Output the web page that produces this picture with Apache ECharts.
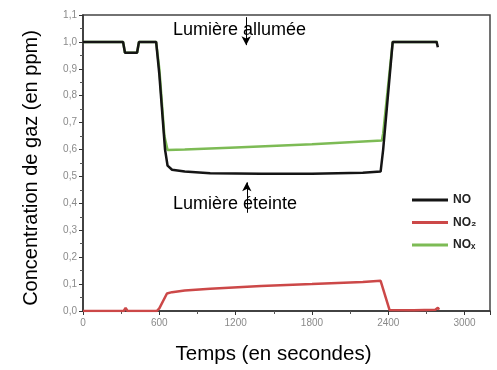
<!DOCTYPE html>
<html>
<head>
<meta charset="utf-8">
<script src="https://cdn.jsdelivr.net/npm/echarts@6/dist/echarts.min.js"></script>
<style>html,body{margin:0;padding:0;background:#fff}#c{width:497px;height:370px}</style>
</head>
<body>
<div id="c"></div>
<script>
// ---- data (time in seconds, concentration in ppm) ----
const noTime  = [0, 315, 330, 425, 440, 575, 600, 645, 665, 700, 800, 1000, 1400, 1800, 2200, 2340, 2360, 2435, 2600, 2780, 2790];
const noVal   = [1.0, 1.0, 0.96, 0.96, 1.0, 1.0, 0.88, 0.60, 0.54, 0.525, 0.518, 0.512, 0.51, 0.51, 0.514, 0.518, 0.60, 1.0, 1.0, 1.0, 0.98];

const no2Time = [0, 320, 335, 350, 580, 600, 660, 700, 800, 1000, 1400, 1800, 2200, 2340, 2410, 2600, 2770, 2790, 2800];
const no2Val  = [0.0, 0.0, 0.012, 0.0, 0.0, 0.01, 0.065, 0.07, 0.076, 0.083, 0.093, 0.1, 0.108, 0.112, 0.004, 0.003, 0.005, 0.012, 0.005];

const noxTime = [0, 315, 330, 425, 440, 575, 600, 640, 665, 800, 1200, 1800, 2350, 2360, 2435, 2600, 2790];
const noxVal  = [1.0, 1.0, 0.96, 0.96, 1.0, 1.0, 0.9, 0.65, 0.598, 0.6, 0.608, 0.62, 0.634, 0.66, 1.0, 1.0, 1.0];

const seriesNames = ['NO', 'NO₂', 'NOₓ'];
const xTicks = [0, 600, 1200, 1800, 2400, 3000];
const annotTexts = ['Lumière allumée', 'Lumière éteinte'];

const pairs = (t, v) => t.map((x, i) => [x, v[i]]);
const F = 'Liberation Sans, Arial, sans-serif';

const chart = echarts.init(document.getElementById('c'), null, {renderer: 'canvas'});
chart.setOption({
  animation: false,
  backgroundColor: '#fff',
  grid: {left: 83, right: 7, top: 15, bottom: 58, show: true, borderColor: '#444', borderWidth: 1.5},
  legend: {
    orient: 'vertical', left: 407, top: 189, itemWidth: 36, itemHeight: 3, itemGap: 10.5,
    icon: 'rect', data: seriesNames,
    textStyle: {fontFamily: F, fontSize: 12, fontWeight: 'bold', color: '#222'}
  },
  xAxis: {
    type: 'value', min: 0, max: 3200, interval: 600,
    name: 'Temps (en secondes)', nameLocation: 'middle', nameGap: 33,
    nameTextStyle: {fontFamily: F, fontSize: 20.5, color: '#000', padding: [0, 26, 0, 0]},
    axisLine: {lineStyle: {color: '#333', width: 1.5}},
    axisTick: {show: true, length: 4, lineStyle: {color: '#333'}},
    minorTick: {show: true, splitNumber: 2, length: 3, lineStyle: {color: '#555'}},
    splitLine: {show: false},
    axisLabel: {fontFamily: F, fontSize: 10, color: '#8a8a8a', margin: 7,
      formatter: v => xTicks.includes(v) ? String(v) : ''}
  },
  yAxis: {
    type: 'value', min: 0, max: 1.1, interval: 0.1,
    name: 'Concentration de gaz (en ppm)', nameLocation: 'middle', nameGap: 42, nameRotate: 90,
    nameTextStyle: {fontFamily: F, fontSize: 20, color: '#000', padding: [0, 10, 0, 0]},
    axisLine: {lineStyle: {color: '#333', width: 1.5}},
    axisTick: {show: true, length: 4, lineStyle: {color: '#333'}},
    minorTick: {show: true, splitNumber: 2, length: 3, lineStyle: {color: '#555'}},
    splitLine: {show: false},
    axisLabel: {fontFamily: F, fontSize: 10, color: '#8a8a8a', margin: 6,
      formatter: v => v.toFixed(1).replace('.', ',')}
  },
  series: [
    {
      name: 'NOₓ', type: 'line', showSymbol: false, z: 2,
      data: pairs(noxTime, noxVal),
      lineStyle: {color: '#7dbb55', width: 2.5}, itemStyle: {color: '#7dbb55'}
    },
    {
      name: 'NO₂', type: 'line', showSymbol: false, z: 3,
      data: pairs(no2Time, no2Val),
      lineStyle: {color: '#cc4848', width: 2.5}, itemStyle: {color: '#cc4848'}
    },
    {
      name: 'NO', type: 'line', showSymbol: false, z: 4,
      data: pairs(noTime, noVal),
      lineStyle: {color: '#151515', width: 2.5}, itemStyle: {color: '#151515'},
      markLine: {
        silent: true, symbol: ['none', 'arrow'], symbolSize: [7, 9],
        label: {show: false},
        lineStyle: {color: '#000', width: 1, type: 'solid'},
        data: [
          [{coord: [1283, 1.092]}, {coord: [1283, 0.988]}],
          [{coord: [1288, 0.365]}, {coord: [1288, 0.478]}]
        ]
      },
      markPoint: {
        silent: true, symbol: 'circle', symbolSize: 0,
        label: {show: true, position: 'right', distance: 0, color: '#000', fontFamily: F, fontSize: 18},
        data: [
          {coord: [707, 1.044], label: {formatter: annotTexts[0]}},
          {coord: [707, 0.396], label: {formatter: annotTexts[1]}}
        ]
      }
    }
  ]
});
</script>
</body>
</html>
